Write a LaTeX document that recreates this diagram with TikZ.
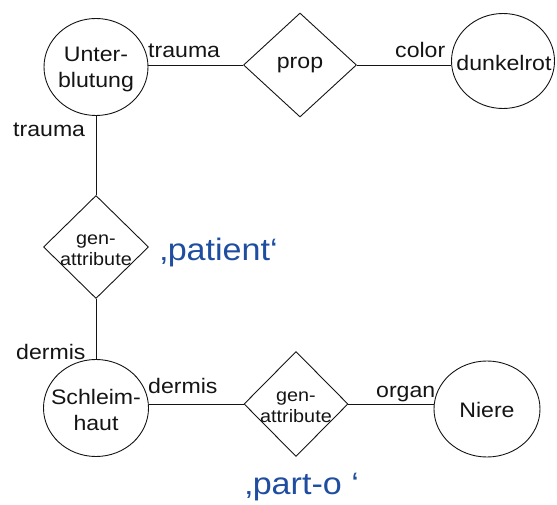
\documentclass[tikz,border=0pt]{standalone}
\usepackage{fontspec}
\setmainfont{Liberation Sans}[FakeStretch=1.1]
\usetikzlibrary{shapes.geometric}
\definecolor{quoteblue}{RGB}{31,78,160}
\definecolor{ink}{RGB}{20,20,20}
\tikzset{
  conn/.style={draw=ink, line width=0.9pt},
  entity/.style={ellipse, draw=ink, line width=0.9pt, inner sep=0pt},
  rel/.style={diamond, draw=ink, line width=0.9pt, inner sep=0pt, aspect=1},
  intext/.style={text=ink, font=\fontsize{21}{26}\selectfont, align=center, inner sep=0pt},
  smalltext/.style={text=ink, font=\fontsize{18}{21}\selectfont, align=center, inner sep=0pt},
  role/.style={text=ink, font=\fontsize{21}{25}\selectfont, anchor=base west, inner sep=0pt},
  bigquote/.style={text=quoteblue, font=\fontsize{31}{36}\selectfont, anchor=base west, inner sep=0pt}
}
\begin{document}
\begin{tikzpicture}[x=1pt, y=-1pt]
\useasboundingbox (0,0) rectangle (557,505);
% entities
\node[entity, minimum width=104pt, minimum height=97pt] (U) at (96,67) {};
\node[intext] (Ut) at (96,69) {Unter-\\blutung};
\node[entity, minimum width=103pt, minimum height=95pt] (dk) at (503,61) {};
\node[intext] (dkt) at (504,63) {dunkelrot};
\node[entity, minimum width=105pt, minimum height=97pt] (S) at (96,408) {};
\node[intext] (St) at (96,410) {Schleim-\\haut};
\node[entity, minimum width=106pt, minimum height=96pt] (N) at (487,409) {};
\node[intext] (Nt) at (487,410) {Niere};
% relations
\node[rel, minimum width=113pt, minimum height=104pt] (prop) at (300,65) {};
\node[intext] (propt) at (300,65) {prop};
\node[rel, minimum width=105pt, minimum height=103pt] (g1) at (96,247) {};
\node[smalltext] (g1t) at (96,250) {gen-\\attribute};
\node[rel, minimum width=104pt, minimum height=105pt] (g2) at (296,404) {};
\node[smalltext] (g2t) at (296,407) {gen-\\attribute};
% connectors
\draw[conn] (prop.west) -- (prop.west -| U.east);
\draw[conn] (prop.east) -- (prop.east -| dk.west);
\draw[conn] (U.south) -- (g1.north);
\draw[conn] (g1.south) -- (S.north);
\draw[conn] (g2.west) -- (g2.west -| S.east);
\draw[conn] (g2.east) -- (g2.east -| N.west);
% role labels
\node[role] (r1) at (148,58) {trauma};
\node[role] (r2) at (395,58) {color};
\node[role] (r3) at (13,137) {trauma};
\node[role] (r4) at (16,359) {dermis};
\node[role] (r5) at (148,393) {dermis};
\node[role] (r6) at (376,397) {organ};
% blue quotes
\node[bigquote] (q1) at (160,261) {‚patient‘};
\node[bigquote] (q2) at (245,494) {‚part-o ‘};
\end{tikzpicture}
\end{document}
